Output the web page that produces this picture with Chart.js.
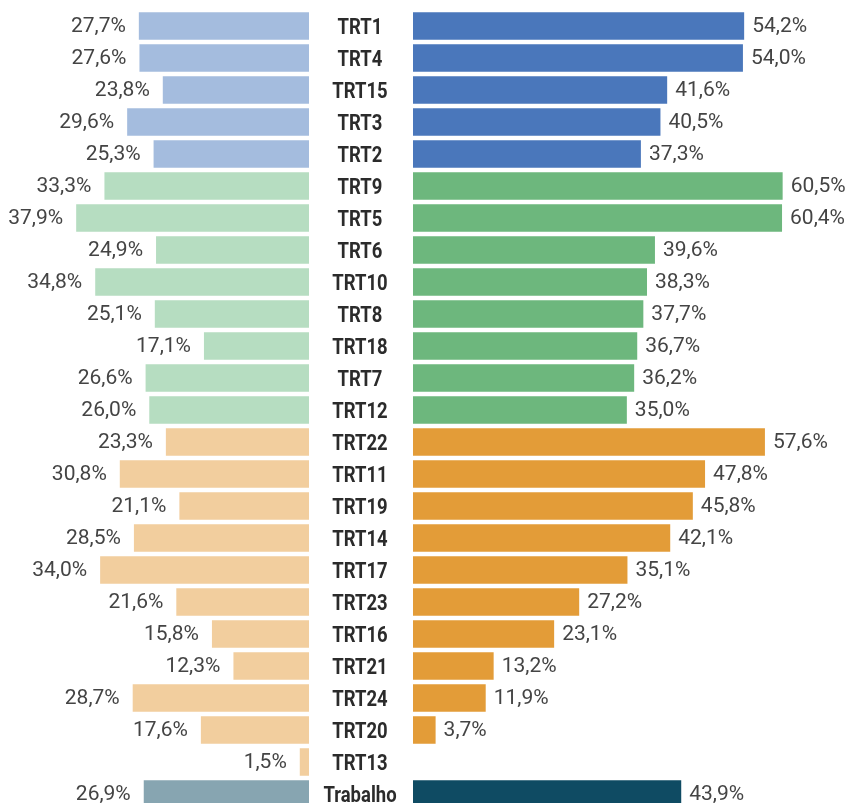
<!DOCTYPE html>
<html>
<head>
<meta charset="utf-8">
<script src="https://cdn.jsdelivr.net/npm/chart.js@4"></script>
<style>
  html, body { margin: 0; padding: 0; background: #fff; overflow: hidden; }
  #wrap { position: relative; width: 849px; height: 803px; }
  #leftChart { position: absolute; left: 0; top: 0; }
  #rightChart { position: absolute; left: 309px; top: 0; }
</style>
</head>
<body>
<div id="wrap">
  <canvas id="leftChart" width="309" height="810"></canvas>
  <canvas id="rightChart" width="540" height="810"></canvas>
</div>
<script>
// Categories (top to bottom)
const categories = ['TRT1', 'TRT4', 'TRT15', 'TRT3', 'TRT2',
    'TRT9', 'TRT5', 'TRT6', 'TRT10', 'TRT8', 'TRT18', 'TRT7', 'TRT12',
    'TRT22', 'TRT11', 'TRT19', 'TRT14', 'TRT17', 'TRT23', 'TRT16', 'TRT21', 'TRT24', 'TRT20', 'TRT13',
    'Trabalho'];

// Group each category belongs to (used for colour)
const groups = ['a', 'a', 'a', 'a', 'a',
    'b', 'b', 'b', 'b', 'b', 'b', 'b', 'b',
    'c', 'c', 'c', 'c', 'c', 'c', 'c', 'c', 'c', 'c', 'c',
    'd'];

// Left-side values (%)
const leftValues = [27.7, 27.6, 23.8, 29.6, 25.3,
    33.3, 37.9, 24.9, 34.8, 25.1, 17.1, 26.6, 26.0,
    23.3, 30.8, 21.1, 28.5, 34.0, 21.6, 15.8, 12.3, 28.7, 17.6, 1.5,
    26.9];

// Right-side values (%)
const rightValues = [54.2, 54.0, 41.6, 40.5, 37.3,
    60.5, 60.4, 39.6, 38.3, 37.7, 36.7, 36.2, 35.0,
    57.6, 47.8, 45.8, 42.1, 35.1, 27.2, 23.1, 13.2, 11.9, 3.7, 0,
    43.9];

const lightColors = { a: '#a4bcde', b: '#b6ddc1', c: '#f2ce9e', d: '#87a5b1' };
const darkColors = { a: '#4a77bb', b: '#6db77d', c: '#e39c38', d: '#0f4b63' };

const valueFont = '21px Roboto, "Liberation Sans", sans-serif';
const catFont = 'bold 22px Roboto, "Liberation Sans", sans-serif';

function fmt(v) {
    return v.toFixed(1).replace('.', ',') + '%';
}

// Draws the percentage next to the end of each bar
// (and, on the right chart, the category names in the middle gap)
const valueLabels = {
    id: 'valueLabels',
    afterDatasetsDraw(chart, args, opts) {
        const ctx = chart.ctx;
        const meta = chart.getDatasetMeta(0);
        const data = chart.data.datasets[0].data;
        ctx.save();
        ctx.textBaseline = 'alphabetic';
        meta.data.forEach((bar, i) => {
            const v = data[i];
            ctx.font = valueFont;
            ctx.fillStyle = '#444';
            if (v) {
                if (opts.side === 'left') {
                    ctx.textAlign = 'right';
                    ctx.fillText(fmt(v), bar.x - 13, bar.y + 6);
                } else {
                    ctx.textAlign = 'left';
                    ctx.fillText(fmt(v), bar.x + 8, bar.y + 6);
                }
            }
            if (opts.side === 'right') {
                // category name, slightly condensed
                const cx = chart.chartArea.left - 53;
                ctx.save();
                ctx.font = catFont;
                ctx.fillStyle = '#2b2b2b';
                ctx.textAlign = 'center';
                ctx.translate(cx, bar.y + 7.5);
                ctx.scale(0.84, 1);
                ctx.fillText(chart.data.labels[i], 0, 0);
                ctx.restore();
            }
        });
        ctx.restore();
    }
};

const common = {
    responsive: false,
    animation: false,
    indexAxis: 'y',
    plugins: { legend: { display: false }, tooltip: { enabled: false } }
};

new Chart(document.getElementById('leftChart'), {
    type: 'bar',
    data: {
        labels: categories,
        datasets: [{
            data: leftValues,
            backgroundColor: groups.map(g => lightColors[g]),
            categoryPercentage: 1,
            barPercentage: 0.86
        }]
    },
    options: {
        ...common,
        layout: { padding: { top: 10, bottom: 0, left: 0, right: 0 } },
        plugins: { ...common.plugins, valueLabels: { side: 'left' } },
        scales: {
            x: { display: false, reverse: true, min: 0, max: 50.3 },
            y: { display: false }
        }
    },
    plugins: [valueLabels]
});

new Chart(document.getElementById('rightChart'), {
    type: 'bar',
    data: {
        labels: categories,
        datasets: [{
            data: rightValues,
            backgroundColor: groups.map(g => darkColors[g]),
            categoryPercentage: 1,
            barPercentage: 0.86
        }]
    },
    options: {
        ...common,
        layout: { padding: { top: 10, bottom: 0, left: 104, right: 0 } },
        plugins: { ...common.plugins, valueLabels: { side: 'right' } },
        scales: {
            x: { display: false, min: 0, max: 71.36 },
            y: { display: false }
        }
    },
    plugins: [valueLabels]
});
</script>
</body>
</html>
